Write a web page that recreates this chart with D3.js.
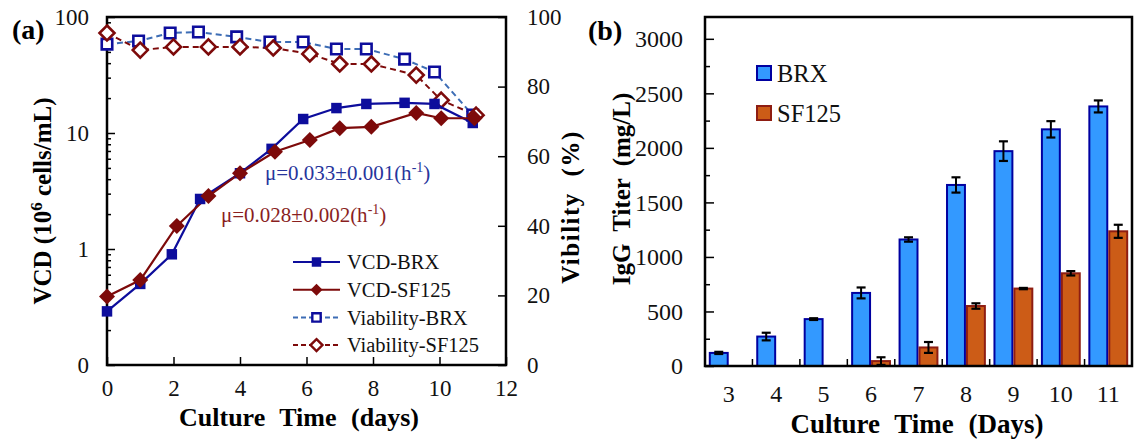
<!DOCTYPE html>
<html>
<head>
<meta charset="utf-8">
<script src="https://cdn.jsdelivr.net/npm/d3@7"></script>
<style>
  body { margin: 0; background: #fff; }
  svg, svg text { font-family: "Liberation Serif", "Times New Roman", Times, serif; }
</style>
</head>
<body>
<div id="chart"></div>
<script>
// ---- panel (a): VCD (log, left) and viability (%, right) vs culture time
const vcdBrxDays = [0, 1, 1.95, 2.8, 4, 4.95, 5.9, 6.9, 7.8, 8.95, 9.85, 11]
const vcdBrx = [0.29, 0.5, 0.9, 2.7, 4.5, 7.3, 13.2, 16.4, 17.8, 18.2, 17.8, 12.2]
const vcdSfDays = [0, 1, 2.1, 3.05, 4, 5.05, 6.1, 7, 7.95, 9.3, 10.05, 11.05]
const vcdSf = [0.39, 0.54, 1.58, 2.86, 4.5, 6.9, 8.7, 11.0, 11.3, 14.9, 13.4, 13.4]
const viaBrxDays = [0, 0.95, 1.9, 2.75, 3.9, 4.9, 5.9, 6.9, 7.8, 8.95, 9.85, 11]
const viaBrx = [92.2, 93.1, 95.4, 95.7, 94.3, 92.8, 92.8, 90.8, 90.8, 87.9, 84.2, 71.8]
const viaSfDays = [0, 1, 2, 3.05, 4, 5, 6.1, 7, 7.95, 9.3, 10.05, 11.1]
const viaSf = [95.4, 90.5, 91.4, 91.4, 91.4, 91.1, 89.4, 86.5, 86.5, 83.3, 76.1, 71.8]

const timeTicks = [0, 2, 4, 6, 8, 10, 12]
const vcdTicks = [0.1, 1, 10, 100]
const vcdTickLabels = ['0', '1', '10', '100']
const viaTicks = [0, 20, 40, 60, 80, 100]

// ---- panel (b): IgG titer bars
const titerDays = ['3', '4', '5', '6', '7', '8', '9', '10', '11']
const titerBrx = [120, 270, 430, 670, 1160, 1660, 1970, 2170, 2380]
const titerBrxErr = [10, 35, 8, 50, 20, 70, 90, 75, 55]
const titerSf = [null, null, null, 45, 170, 550, 710, 850, 1235]
const titerSfErr = [0, 0, 0, 35, 50, 25, 6, 20, 60]
const titerTicks = [0, 500, 1000, 1500, 2000, 2500, 3000]

const FONT = '"Liberation Serif", "Times New Roman", Times, serif'
const BLUE = '#0d0d9c'
const RED = '#7d0a0a'
const DASH_BLUE = '#3d6db5'

const svg = d3.select('#chart').append('svg')
  .attr('width', 1137)
  .attr('height', 440)
  .attr('font-family', FONT)

function pairs(xs, ys) {
  return xs.map((d, i) => ({ t: d, v: ys[i] }))
}

// square turned 45deg, same look as the reference's diamonds
function diamond(r) {
  return `M0,${-r}L${r},0L0,${r}L${-r},0Z`
}

// ================= panel (a) =================
const A = { l: 107, r: 506, t: 17, b: 365 }
const x = d3.scaleLinear([0, 12], [A.l, A.r])
const yL = d3.scaleLog([0.1, 100], [A.b, A.t])
const yR = d3.scaleLinear([0, 100], [A.b, A.t])

const ga = svg.append('g')

// minor log ticks
const minor = []
for (const dec of [0.1, 1, 10]) for (let k = 2; k <= 9; k++) minor.push(dec * k)
ga.append('g').attr('transform', `translate(${A.l},0)`)
  .call(d3.axisLeft(yL).tickValues(minor).tickSize(-4).tickFormat(''))
ga.append('g').attr('class', 'ta').attr('transform', `translate(${A.l},0)`)
  .call(d3.axisLeft(yL).tickValues(vcdTicks).tickSize(-8).tickPadding(18)
    .tickFormat((d, i) => vcdTickLabels[i]))
ga.append('g').attr('class', 'ta').attr('transform', `translate(${A.r},0)`)
  .call(d3.axisRight(yR).tickValues(viaTicks).tickSize(-8).tickPadding(21))
ga.append('g').attr('class', 'ta').attr('transform', `translate(0,${A.b})`)
  .call(d3.axisBottom(x).tickValues(timeTicks).tickSize(-8).tickPadding(15))

ga.selectAll('.domain').remove()
ga.selectAll('.tick line').attr('stroke', '#000').attr('stroke-width', 1.5)

ga.append('rect')
  .attr('x', A.l).attr('y', A.t)
  .attr('width', A.r - A.l).attr('height', A.b - A.t)
  .attr('fill', 'none').attr('stroke', '#000').attr('stroke-width', 2.5)

const lineL = d3.line().x(d => x(d.t)).y(d => yL(d.v))
const lineR = d3.line().x(d => x(d.t)).y(d => yR(d.v))
const sq = d3.symbol(d3.symbolSquare, 110)

// viability (dashed, open markers)
const viaB = pairs(viaBrxDays, viaBrx)
const viaS = pairs(viaSfDays, viaSf)
ga.append('path').datum(viaB).attr('d', lineR)
  .attr('fill', 'none').attr('stroke', DASH_BLUE).attr('stroke-width', 2).attr('stroke-dasharray', '6 4')
ga.append('path').datum(viaS).attr('d', lineR)
  .attr('fill', 'none').attr('stroke', RED).attr('stroke-width', 2).attr('stroke-dasharray', '6 4')
ga.append('g').selectAll('path').data(viaB).join('path')
  .attr('d', sq).attr('transform', d => `translate(${x(d.t)},${yR(d.v)})`)
  .attr('fill', '#fff').attr('stroke', BLUE).attr('stroke-width', 2.6)
ga.append('g').selectAll('path').data(viaS).join('path')
  .attr('d', diamond(7.5)).attr('transform', d => `translate(${x(d.t)},${yR(d.v)})`)
  .attr('fill', '#fff').attr('stroke', RED).attr('stroke-width', 2.6)

// VCD (solid, filled markers)
const vcdB = pairs(vcdBrxDays, vcdBrx)
const vcdS = pairs(vcdSfDays, vcdSf)
ga.append('path').datum(vcdB).attr('d', lineL)
  .attr('fill', 'none').attr('stroke', BLUE).attr('stroke-width', 2.2)
ga.append('path').datum(vcdS).attr('d', lineL)
  .attr('fill', 'none').attr('stroke', RED).attr('stroke-width', 2.2)
ga.append('g').selectAll('path').data(vcdB).join('path')
  .attr('d', sq).attr('transform', d => `translate(${x(d.t)},${yL(d.v)})`)
  .attr('fill', BLUE)
ga.append('g').selectAll('path').data(vcdS).join('path')
  .attr('d', diamond(8)).attr('transform', d => `translate(${x(d.t)},${yL(d.v)})`)
  .attr('fill', RED)

// growth-rate annotations
function mu(g, px, py, txt, color) {
  const t = g.append('text').attr('x', px).attr('y', py)
    .attr('font-size', 21).attr('fill', color)
  t.append('tspan').text(txt + '(h')
  t.append('tspan').attr('font-size', 14).attr('dy', -8).text('-1')
  t.append('tspan').attr('dy', 8).text(')')
}
mu(ga, 265, 180, 'μ=0.033±0.001', '#27359c')
mu(ga, 221, 222, 'μ=0.028±0.002', '#8a1f1f')

// legend (a)
const legA = [
  { label: 'VCD-BRX', color: BLUE, dash: null, sym: d3.symbol(d3.symbolSquare, 90)(), fill: BLUE },
  { label: 'VCD-SF125', color: RED, dash: null, sym: diamond(6), fill: RED },
  { label: 'Viability-BRX', color: DASH_BLUE, dash: '5 3', sym: d3.symbol(d3.symbolSquare, 70)(), fill: '#fff', mk: BLUE },
  { label: 'Viability-SF125', color: RED, dash: '5 3', sym: diamond(6), fill: '#fff', mk: RED },
]
const lg = ga.append('g').selectAll('g').data(legA).join('g')
  .attr('transform', (d, i) => `translate(293,${262 + i * 27.7})`)
lg.append('line').attr('x1', 0).attr('x2', 47)
  .attr('stroke', d => d.color).attr('stroke-width', 2).attr('stroke-dasharray', d => d.dash)
lg.append('path').attr('d', d => d.sym).attr('transform', 'translate(23.5,0)')
  .attr('fill', d => d.fill).attr('stroke', d => d.mk || 'none').attr('stroke-width', 2.4)
lg.append('text').attr('x', 54).attr('dy', '0.35em').attr('font-size', 20.5).attr('fill', '#111')
  .text(d => d.label)

// titles (a)
ga.append('text').attr('x', 12).attr('y', 39).attr('font-size', 28).attr('font-weight', 'bold').text('(a)')
const vt = ga.append('text').attr('transform', 'translate(51,201) rotate(-90)')
  .attr('text-anchor', 'middle').attr('font-size', 25).attr('font-weight', 'bold')
vt.append('tspan').text('VCD (10')
vt.append('tspan').attr('font-size', 17).attr('dy', -9).text('6')
vt.append('tspan').attr('dy', 9).text(' cells/mL)')
ga.append('text').attr('transform', 'translate(579,207) rotate(-90)')
  .attr('text-anchor', 'middle').attr('font-size', 25).attr('font-weight', 'bold')
  .attr('letter-spacing', 1.5).attr('word-spacing', 8).text('Vibility (%)')
ga.append('text').attr('x', 299).attr('y', 426)
  .attr('text-anchor', 'middle').attr('font-size', 26).attr('font-weight', 'bold')
  .attr('word-spacing', 8).text('Culture Time (days)')

// ================= panel (b) =================
const B = { l: 705, r: 1132, t: 17, b: 366 }
const xb = d3.scaleBand(titerDays, [B.l, B.r]).paddingInner(0.16).paddingOuter(0.08)
const x1 = d3.scaleBand(['BRX', 'SF125'], [0, xb.bandwidth()])
const yb = d3.scaleLinear([0, 3200], [B.b, B.t])

const gb = svg.append('g')
gb.append('g').attr('transform', `translate(${B.l},0)`)
  .call(d3.axisLeft(yb).tickValues(d3.range(250, 3200, 500)).tickSize(-5).tickFormat(''))
gb.append('g').attr('class', 'tb').attr('transform', `translate(${B.l},0)`)
  .call(d3.axisLeft(yb).tickValues(titerTicks).tickSize(-9).tickPadding(22).tickFormat(d3.format('d')))
gb.append('g').attr('class', 'tb').attr('transform', `translate(0,${B.b})`)
  .call(d3.axisBottom(xb).tickSize(0).tickPadding(19))
gb.selectAll('.domain').remove()
gb.selectAll('.tick line').attr('stroke', '#000').attr('stroke-width', 1.5)

// category separators on the x axis
const step = xb.step()
gb.append('g').selectAll('line').data(titerDays.slice(1)).join('line')
  .attr('x1', d => xb(d) - step * xb.paddingInner() / 2)
  .attr('x2', d => xb(d) - step * xb.paddingInner() / 2)
  .attr('y1', B.b).attr('y2', B.b - 7)
  .attr('stroke', '#000').attr('stroke-width', 1.5)

const rows = titerDays.map((d, i) => ({
  day: d,
  vals: [
    { k: 'BRX', v: titerBrx[i], e: titerBrxErr[i] },
    { k: 'SF125', v: titerSf[i], e: titerSfErr[i] },
  ].filter(o => o.v != null),
}))
const fill = { BRX: '#3399ff', SF125: '#cc5c17' }
const stroke = { BRX: '#0000a0', SF125: '#8e1d12' }

const grp = gb.append('g').selectAll('g').data(rows).join('g')
  .attr('transform', d => `translate(${xb(d.day)},0)`)
grp.selectAll('rect').data(d => d.vals).join('rect')
  .attr('x', d => x1(d.k) + 1)
  .attr('width', x1.bandwidth() - 2)
  .attr('y', d => yb(d.v))
  .attr('height', d => yb(0) - yb(d.v))
  .attr('fill', d => fill[d.k]).attr('stroke', d => stroke[d.k]).attr('stroke-width', 2)

const eb = grp.selectAll('g.err').data(d => d.vals).join('g').attr('class', 'err')
  .attr('transform', d => `translate(${x1(d.k) + x1.bandwidth() / 2},0)`)
eb.append('line').attr('y1', d => yb(d.v + d.e)).attr('y2', d => yb(Math.max(0, d.v - d.e)))
  .attr('stroke', '#000').attr('stroke-width', 2)
eb.append('line').attr('x1', -4.5).attr('x2', 4.5).attr('y1', d => yb(d.v + d.e)).attr('y2', d => yb(d.v + d.e))
  .attr('stroke', '#000').attr('stroke-width', 2.2)
eb.append('line').attr('x1', -4.5).attr('x2', 4.5)
  .attr('y1', d => yb(Math.max(0, d.v - d.e))).attr('y2', d => yb(Math.max(0, d.v - d.e)))
  .attr('stroke', '#000').attr('stroke-width', 2.2)

gb.append('rect')
  .attr('x', B.l).attr('y', B.t)
  .attr('width', B.r - B.l).attr('height', B.b - B.t)
  .attr('fill', 'none').attr('stroke', '#000').attr('stroke-width', 2.5)

// legend (b)
const lb = gb.append('g').selectAll('g').data(['BRX', 'SF125']).join('g')
  .attr('transform', (d, i) => `translate(757,${66 + i * 40})`)
lb.append('rect').attr('width', 14).attr('height', 14)
  .attr('fill', d => fill[d]).attr('stroke', d => stroke[d]).attr('stroke-width', 2)
lb.append('text').attr('x', 20).attr('y', 7).attr('dy', '0.36em')
  .attr('font-size', 24.5).attr('fill', '#111').text(d => d)

// titles (b)
gb.append('text').attr('x', 588).attr('y', 40).attr('font-size', 28).attr('font-weight', 'bold').text('(b)')
gb.append('text').attr('transform', 'translate(630,189) rotate(-90)')
  .attr('text-anchor', 'middle').attr('font-size', 25).attr('font-weight', 'bold')
  .attr('word-spacing', 6).text('IgG Titer (mg/L)')
gb.append('text').attr('x', 917).attr('y', 433)
  .attr('text-anchor', 'middle').attr('font-size', 27).attr('font-weight', 'bold')
  .attr('word-spacing', 8).text('Culture Time (Days)')

// tick labels in the serif face, like the rest
svg.selectAll('.ta .tick text').attr('font-size', 23).attr('fill', '#111')
svg.selectAll('.tb .tick text').attr('font-size', 24).attr('fill', '#111')
svg.selectAll('g').filter(function () { return this.getAttribute('font-family') === 'sans-serif' })
  .attr('font-family', FONT)
</script>
</body>
</html>
